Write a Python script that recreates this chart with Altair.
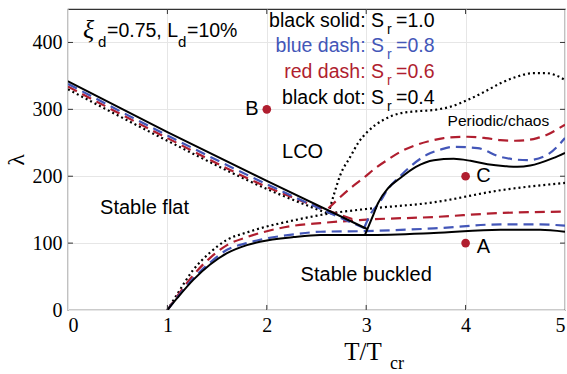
import altair as alt
import pandas as pd

# ---------------- data ----------------
X_TICKS = [0, 1, 2, 3, 4, 5]
Y_TICKS = [0, 100, 200, 300, 400]

# black solid, S_r = 1.0
BLK_FLAT_X = [0, 1, 2, 3.01]
BLK_FLAT_Y = [342, 266, 193, 121]
BLK_LOW_X = [1.0, 1.1, 1.26, 1.43, 1.6, 1.8, 1.93, 2.27, 2.54, 3.0, 3.68, 4.35, 4.75, 5.0]
BLK_LOW_Y = [0, 18, 45, 68, 85, 97, 102, 109, 112, 112, 115, 120, 120, 117]
BLK_UP_X = [2.99, 3.06, 3.12, 3.22, 3.34, 3.5, 3.68, 3.88, 4.05, 4.22, 4.4, 4.52, 4.65, 4.75, 4.88, 5.0]
BLK_UP_Y = [113, 138, 160, 182, 197, 214, 224, 226, 223, 218, 215, 214, 216, 220, 227, 235]

# blue dash, S_r = 0.8
BLU_FLAT_X = [0, 1, 2, 3.0]
BLU_FLAT_Y = [338, 261, 188, 121]
BLU_LOW_X = [1.0, 1.1, 1.26, 1.43, 1.6, 1.8, 1.93, 2.27, 2.54, 3.0, 3.68, 4.35, 4.75, 5.0]
BLU_LOW_Y = [0, 19, 47, 71, 90, 100, 105, 113, 117, 118, 122, 128, 128, 126]
BLU_UP_X = [2.98, 3.05, 3.14, 3.21, 3.34, 3.44, 3.61, 3.75, 3.88, 4.12, 4.35, 4.62, 4.82, 5.0]
BLU_UP_Y = [123, 145, 162, 179, 200, 214, 232, 240, 244, 242, 229, 224, 232, 257]

# red dash, S_r = 0.6
RED_FLAT_X = [0, 1, 2, 2.9]
RED_FLAT_Y = [334, 257, 184, 134]
RED_LOW_X = [1.0, 1.1, 1.26, 1.43, 1.6, 1.8, 1.93, 2.27, 2.54, 2.9, 3.0, 3.68, 4.35, 5.0]
RED_LOW_Y = [0, 21, 52, 78, 97, 109, 115, 126, 130, 134, 135, 139, 145, 147]
RED_UP_X = [2.62, 2.74, 2.84, 2.97, 3.11, 3.21, 3.35, 3.51, 3.65, 3.78, 4.02, 4.2, 4.35, 4.5, 4.62, 4.72, 4.82, 4.92, 5.0]
RED_UP_Y = [152, 169, 182, 197, 214, 224, 237, 247, 253, 257, 259, 257, 254, 253, 254, 257, 262, 270, 277]

# black dot, S_r = 0.4
DOT_FLAT_X = [0, 1, 2, 2.62]
DOT_FLAT_Y = [330, 253, 181, 144]
DOT_LOW_X = [1.0, 1.1, 1.26, 1.43, 1.6, 1.8, 1.93, 2.27, 2.54, 2.62, 3.0, 3.68, 4.35, 5.0]
DOT_LOW_Y = [0, 24, 60, 86, 105, 116, 122, 134, 142, 144, 151, 161, 179, 190]
DOT_UP_X = [2.62, 2.68, 2.74, 2.84, 2.92, 3.01, 3.17, 3.34, 3.5, 3.68, 3.85, 4.02, 4.2, 4.35, 4.5, 4.68, 4.82, 4.92, 5.0]
DOT_UP_Y = [144, 175, 202, 229, 250, 266, 284, 294, 297, 299, 304, 314, 327, 339, 348, 354, 354, 350, 344]

# marked points A, B, C
PT_X = [4, 2, 4]
PT_Y = [100, 300, 200]

# region / point labels (data coordinates)
LBL_TEXT = ["B", "C", "A", "LCO", "Stable flat", "Stable buckled"]
LBL_X = [1.85, 4.18, 4.18, 2.36, 0.77, 3.0]
LBL_Y = [301, 200, 94, 236, 153, 53]

# ---------------- styling ----------------
SANS = "Liberation Sans"
SERIF = "Liberation Serif"
BLUE = "#4356B8"
RED = "#B01E2F"
FRAME = "#333333"

XS = alt.Scale(domain=[0, 5], nice=False, zero=False)
YS = alt.Scale(domain=[0, 450], nice=False, zero=False)
AX = alt.Axis(values=X_TICKS, title=None, grid=True, ticks=False, domain=False,
              labelFont=SERIF, labelFontSize=20, labelColor="black", labelPadding=5)
AY = alt.Axis(values=Y_TICKS, title="λ", grid=True, ticks=False, domain=False,
              labelFont=SERIF, labelFontSize=20, labelColor="black", labelPadding=6,
              titleFont=SERIF, titleFontSize=24, titleFontWeight="normal",
              titleColor="black", titlePadding=4)


def enc_xy():
    return dict(x=alt.X("x:Q", scale=XS, axis=AX), y=alt.Y("y:Q", scale=YS, axis=AY))


layers = []


def curve(xs, ys, color, dash, width):
    df = pd.DataFrame({"x": xs, "y": ys})
    kw = dict(color=color, strokeWidth=width, interpolate="monotone", clip=True)
    if dash:
        kw["strokeDash"] = dash
    return alt.Chart(df).mark_line(**kw).encode(**enc_xy())


series = [
    (DOT_FLAT_X, DOT_FLAT_Y, DOT_LOW_X, DOT_LOW_Y, DOT_UP_X, DOT_UP_Y, "black", [2, 3], 2.2),
    (RED_FLAT_X, RED_FLAT_Y, RED_LOW_X, RED_LOW_Y, RED_UP_X, RED_UP_Y, RED, [10, 6], 2.2),
    (BLU_FLAT_X, BLU_FLAT_Y, BLU_LOW_X, BLU_LOW_Y, BLU_UP_X, BLU_UP_Y, BLUE, [10, 6], 2.2),
    (BLK_FLAT_X, BLK_FLAT_Y, BLK_LOW_X, BLK_LOW_Y, BLK_UP_X, BLK_UP_Y, "black", None, 2.0),
]
for fx, fy, lx, ly, ux, uy, col, dash, w in series:
    layers.append(curve(fx, fy, col, dash, w))
    layers.append(curve(lx, ly, col, dash, w))
    layers.append(curve(ux, uy, col, dash, w))

# inner ticks on all four sides
bt = pd.DataFrame({"x": X_TICKS[1:-1], "y": [0] * 4, "y2": [7.5] * 4})
tt = pd.DataFrame({"x": X_TICKS[1:-1], "y": [450] * 4, "y2": [442.5] * 4})
lt = pd.DataFrame({"y": Y_TICKS[1:], "x": [0] * 4, "x2": [0.05] * 4})
rt = pd.DataFrame({"y": Y_TICKS[1:], "x": [5] * 4, "x2": [4.95] * 4})
for d in (bt, tt):
    layers.append(alt.Chart(d).mark_rule(color=FRAME, strokeWidth=1).encode(
        **enc_xy(), y2="y2:Q"))
for d in (lt, rt):
    layers.append(alt.Chart(d).mark_rule(color=FRAME, strokeWidth=1).encode(
        **enc_xy(), x2="x2:Q"))

# points
pts = pd.DataFrame({"x": PT_X, "y": PT_Y})
layers.append(alt.Chart(pts).mark_circle(color=RED, size=75, opacity=1).encode(**enc_xy()))

# labels in data coordinates
lbl = pd.DataFrame({"x": LBL_X, "y": LBL_Y, "t": LBL_TEXT})
layers.append(alt.Chart(lbl).mark_text(font=SANS, fontSize=20, align="center",
                                       baseline="middle", color="black").encode(
    **enc_xy(), text="t:N"))
pc = pd.DataFrame({"x": [4.33], "y": [283], "t": ["Periodic/chaos"]})
layers.append(alt.Chart(pc).mark_text(font=SANS, fontSize=15.5, align="center",
                                      baseline="middle", color="black").encode(
    **enc_xy(), text="t:N"))


def ptext(s, px, py, size=20, color="black", align="left", font=SANS, style="normal"):
    return alt.Chart(pd.DataFrame({"t": [s]})).mark_text(
        text=s, font=font, fontSize=size, align=align, baseline="alphabetic", color=color,
        fontStyle=style).encode(x=alt.value(px), y=alt.value(py))


# top-left parameter label (plot-area pixel coordinates)
layers += [
    ptext("ξ", 15, 29, size=26, font=SERIF, style="italic"),
    ptext("d", 30, 38, size=15),
    ptext("=0.75, L", 39, 28, size=19.5),
    ptext("d", 110, 38, size=15),
    ptext("=10%", 119, 28, size=19.5),
]

# legend text
leg = [("black solid: S", "=1.0", "black", 18),
       ("blue dash: S", "=0.8", BLUE, 43),
       ("red dash: S", "=0.6", RED, 69),
       ("black dot: S", "=0.4", "black", 95)]
for pre, val, col, base in leg:
    layers += [
        ptext(pre, 316, base, size=19.5, color=col, align="right"),
        ptext("r", 319, base + 7, size=14, color=col),
        ptext(val, 328, base, size=19.5, color=col),
    ]

# x-axis title
layers += [
    ptext("T/T", 295, 351, size=25, font=SERIF, align="center"),
    ptext("cr", 322, 360, size=18, font=SERIF),
]

chart = alt.layer(*layers).properties(
    width=497, height=301,
    autosize=alt.AutoSizeParams(type="none"),
    padding={"left": 68, "top": 9, "right": 2, "bottom": 64},
).configure_view(stroke=FRAME, strokeWidth=1.2).configure_axis(
    gridColor="#E6E6E6", gridWidth=1)

chart.save("out.html", embed_options={"renderer": "svg", "actions": False})
